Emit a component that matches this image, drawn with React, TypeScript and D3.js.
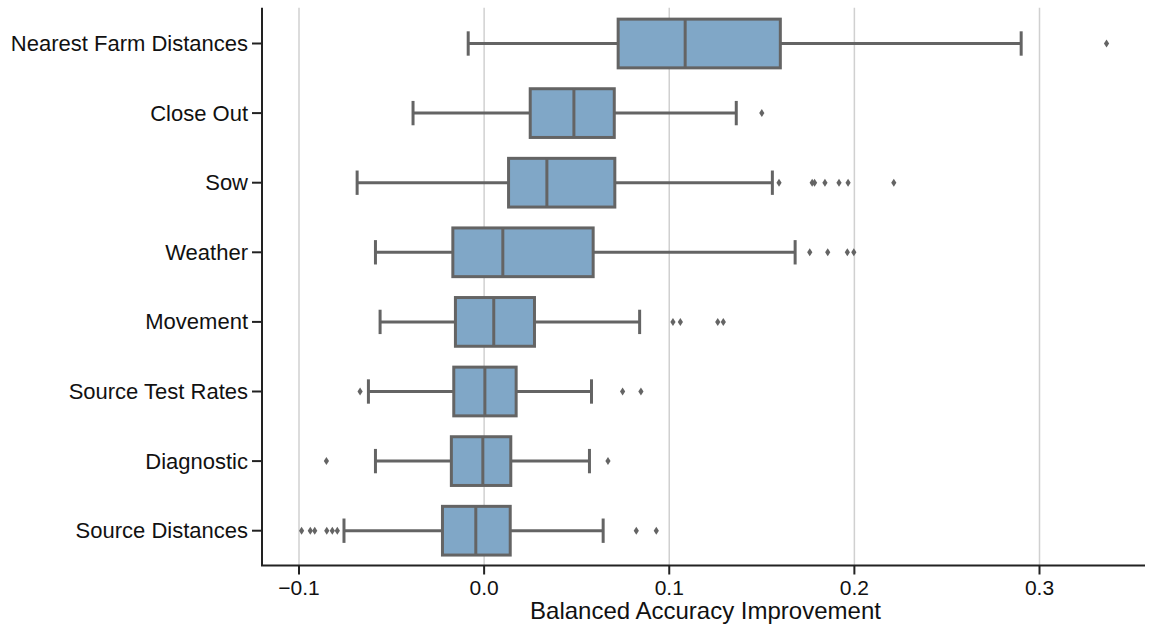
import React from 'react'
import * as d3 from 'd3'

// feature groups, top to bottom
const categories = ['Nearest Farm Distances', 'Close Out', 'Sow', 'Weather', 'Movement', 'Source Test Rates', 'Diagnostic', 'Source Distances']

// box stats: [whisker low, q1, median, q3, whisker high]
const whiskLow = [-0.0086, -0.0384, -0.0686, -0.0587, -0.0562, -0.0625, -0.0587, -0.0757]
const q1 = [0.0724, 0.0249, 0.0132, -0.0169, -0.0155, -0.0164, -0.0177, -0.0225]
const medians = [0.1086, 0.0485, 0.0339, 0.0101, 0.0052, 0.0004, -0.0007, -0.0045]
const q3 = [0.160, 0.0703, 0.0706, 0.0589, 0.0272, 0.0173, 0.0144, 0.0141]
const whiskHigh = [0.2901, 0.1362, 0.1557, 0.168, 0.084, 0.058, 0.0569, 0.0643]

const fliers = [
	[0.3362],
	[0.150],
	[0.1593, 0.1772, 0.1785, 0.1841, 0.1917, 0.1966, 0.2213],
	[0.1759, 0.1856, 0.1962, 0.1997],
	[0.102, 0.106, 0.1262, 0.1292],
	[-0.067, 0.0748, 0.0847],
	[-0.0852, 0.0669],
	[-0.0986, -0.0939, -0.0915, -0.085, -0.082, -0.0793, 0.0822, 0.093],
]

const xTicks = [-0.1, 0.0, 0.1, 0.2, 0.3]

export default function App() {
	const width = 1157
	const height = 627
	const left = 262
	const right = 1145
	const top = 8.7
	const bottom = 565.5

	const x = d3.scaleLinear().domain([-0.1, 0.3]).range([299, 1039.5])
	const y = d3.scaleBand().domain(categories).range([top, bottom]).padding(0)

	const boxH = y.bandwidth() * 0.7
	const capH = boxH / 2
	const gray = '#646464'
	const font = 'Liberation Sans, Arial, Helvetica, sans-serif'
	const diamond = 'M0,-4L2.6,0L0,4L-2.6,0Z'

	return (
		<svg width={width} height={height} style={{position: 'absolute', left: 0, top: 0, background: 'white'}}>
			{/* grid */}
			{xTicks.map(t => (
				<line key={'g' + t} x1={x(t)} x2={x(t)} y1={top - 1} y2={bottom} stroke="#d0d0d0" strokeWidth={1.5} />
			))}

			{/* boxes */}
			{categories.map((c, i) => {
				const cy = (y(c) as number) + y.bandwidth() / 2
				return (
					<g key={c}>
						<line x1={x(whiskLow[i])} x2={x(q1[i])} y1={cy} y2={cy} stroke={gray} strokeWidth={3} />
						<line x1={x(q3[i])} x2={x(whiskHigh[i])} y1={cy} y2={cy} stroke={gray} strokeWidth={3} />
						<line x1={x(whiskLow[i])} x2={x(whiskLow[i])} y1={cy - capH / 2} y2={cy + capH / 2} stroke={gray} strokeWidth={3} />
						<line x1={x(whiskHigh[i])} x2={x(whiskHigh[i])} y1={cy - capH / 2} y2={cy + capH / 2} stroke={gray} strokeWidth={3} />
						<rect x={x(q1[i])} y={cy - boxH / 2} width={x(q3[i]) - x(q1[i])} height={boxH}
							fill="#80a7c7" stroke={gray} strokeWidth={3} />
						<line x1={x(medians[i])} x2={x(medians[i])} y1={cy - boxH / 2} y2={cy + boxH / 2} stroke={gray} strokeWidth={3} />
						{fliers[i].map((f, j) => (
							<path key={j} d={diamond} transform={`translate(${x(f)},${cy})`} fill={gray} />
						))}
					</g>
				)
			})}

			{/* spines */}
			<line x1={left} x2={left} y1={top - 1} y2={bottom} stroke="#222" strokeWidth={2} />
			<line x1={left - 1} x2={right} y1={bottom} y2={bottom} stroke="#222" strokeWidth={2} />

			{/* y ticks */}
			{categories.map(c => {
				const cy = (y(c) as number) + y.bandwidth() / 2
				return (
					<g key={'t' + c}>
						<line x1={left - 10} x2={left} y1={cy} y2={cy} stroke="#222" strokeWidth={2} />
						<text x={left - 14} y={cy} textAnchor="end" dominantBaseline="central"
							fontFamily={font} fontSize={22} fill="#111">{c}</text>
					</g>
				)
			})}

			{/* x ticks */}
			{xTicks.map(t => (
				<g key={'x' + t}>
					<line x1={x(t)} x2={x(t)} y1={bottom} y2={bottom + 9} stroke="#222" strokeWidth={2} />
					<text x={x(t)} y={594.5} textAnchor="middle" fontFamily={font} fontSize={21} fill="#111">
						{t === 0 ? '0.0' : d3.format('.1f')(t).replace('-', '\u2212')}
					</text>
				</g>
			))}

			<text x={(left + right) / 2 + 2} y={619} textAnchor="middle" fontFamily={font} fontSize={24} fill="#111">
				Balanced Accuracy Improvement
			</text>
		</svg>
	)
}
